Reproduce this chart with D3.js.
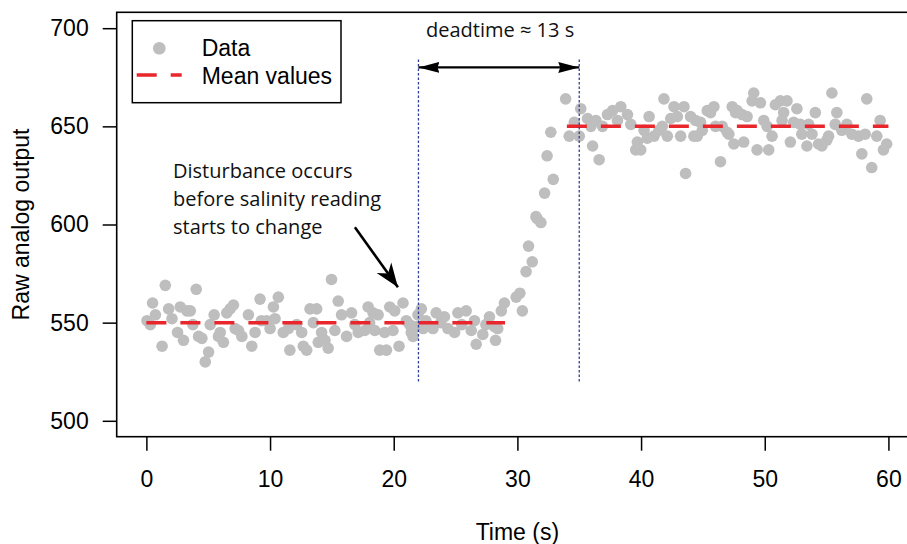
<!DOCTYPE html>
<html>
<head>
<meta charset="utf-8">
<script src="https://cdn.jsdelivr.net/npm/d3@7"></script>
<style>
  body { margin: 0; background: #fff; }
  svg { display: block; }
  .ax text { font-family: "Liberation Sans", Arial, sans-serif; font-size: 23px; fill: #000; }
  .note { font-family: "Open Sans", "Noto Sans", sans-serif; font-size: 20px; fill: #111; }
</style>
</head>
<body>
<div id="container"></div>
<script>
// sample times (s) and raw sensor readings
var times = [
  0.05, 0.32, 0.5, 0.73, 1.27, 1.53, 1.8, 2.07, 2.52, 2.74, 3.0, 3.28, 3.55, 3.76, 4.03, 4.22, 4.49, 4.76, 5.03, 5.16,
  5.48, 5.83, 5.97, 6.23, 6.5, 6.77, 7.04, 7.18, 7.45, 7.72, 8.25, 8.52, 8.79, 9.19, 9.3, 9.73, 10.0, 10.27, 10.4, 10.67,
  11.07, 11.48, 11.6, 12.15, 12.56, 12.69, 12.96, 13.23, 13.5, 13.77, 13.9, 14.17, 14.44, 14.7, 14.97, 15.24, 15.51, 15.78, 16.19, 16.59,
  16.86, 17.13, 17.66, 17.93, 18.05, 18.33, 18.47, 18.74, 18.87, 19.27, 19.41, 19.68, 19.94, 20.08, 20.43, 20.75, 21.02, 21.29, 21.42, 21.56,
  21.83, 21.96, 22.23, 22.37, 22.6, 23.17, 23.43, 23.8, 24.1, 24.38, 24.92, 25.19, 25.5, 25.86, 26.27, 26.53, 26.67, 27.2, 27.45, 27.74,
  28.15, 28.23, 28.41, 28.7, 28.95, 29.9, 30.2, 30.4, 30.7, 30.9, 31.2, 31.5, 31.6, 31.9, 32.2, 32.4, 32.7, 32.9, 33.9, 34.19,
  34.6, 35.0, 35.12, 35.67, 35.94, 36.08, 36.35, 36.61, 36.88, 37.28, 37.69, 38.09, 38.36, 38.9, 39.17, 39.57, 39.7, 39.97, 40.24, 40.5,
  40.65, 41.05, 41.45, 41.72, 41.85, 42.12, 42.4, 42.66, 42.93, 43.2, 43.47, 43.6, 44.0, 44.27, 44.41, 44.54, 44.81, 44.95, 45.35, 45.62,
  45.89, 46.02, 46.42, 46.56, 46.96, 47.1, 47.37, 47.5, 47.64, 47.77, 48.17, 48.3, 48.57, 48.98, 49.11, 49.38, 49.65, 49.92, 50.19, 50.32,
  50.59, 50.86, 51.26, 51.4, 51.53, 51.8, 52.07, 52.34, 52.6, 52.88, 53.0, 53.41, 53.55, 53.82, 54.09, 54.35, 54.62, 55.02, 55.16, 55.43,
  55.7, 55.83, 56.23, 56.64, 57.04, 57.58, 57.85, 58.12, 58.25, 58.65, 59.06, 59.33, 59.6, 59.86
];
var readings = [
  551, 549, 560, 554, 538, 569, 557, 552, 545, 558, 541, 556, 556, 549, 567, 543, 542, 530, 535, 549,
  554, 543, 545, 540, 555, 557, 559, 547, 546, 543, 554, 538, 545, 562, 551, 551, 547, 558, 552, 563,
  545, 547, 536, 549, 545, 538, 536, 557, 550, 557, 540, 545, 541, 537, 572, 546, 561, 554, 543, 555,
  549, 545, 546, 558, 550, 555, 546, 554, 536, 545, 536, 558, 546, 556, 538, 560, 551, 549, 545, 543,
  548, 554, 557, 547, 551, 547, 555, 550, 553, 547, 545, 555, 549, 556, 546, 551, 539, 544, 549, 553,
  548, 541, 547, 556, 560, 563, 565, 556, 576, 589, 581, 604, 603, 601, 616, 635, 647, 623, 664, 645,
  652, 645, 659, 654, 650, 640, 653, 633, 650, 656, 658, 653, 660, 656, 651, 638, 642, 638, 648, 644,
  655, 645, 648, 650, 664, 645, 654, 660, 655, 645, 660, 626, 655, 645, 653, 645, 652, 648, 658, 657,
  660, 650, 632, 650, 647, 646, 660, 641, 657, 658, 656, 642, 655, 663, 667, 638, 662, 653, 650, 638,
  645, 661, 663, 653, 657, 663, 642, 652, 659, 651, 646, 640, 651, 646, 657, 641, 640, 643, 645, 667,
  651, 657, 648, 651, 646, 645, 636, 646, 664, 629, 645, 653, 638, 641
];

// mean level before and after the step
var meanStart = [0, 34];
var meanEnd = [29, 60];
var meanLevel = [550, 650];

// disturbance and response times
var markTimes = [22, 35];

var xTicks = [0, 10, 20, 30, 40, 50, 60];
var yTicks = [500, 550, 600, 650, 700];

var width = 907, height = 544;

var svg = d3.select("#container").append("svg")
  .attr("width", width)
  .attr("height", height);

// R style: 4% padding around the data range
var x = d3.scaleLinear().domain([-2.4, 62.4]).range([116.7, 918.1]);
var y = d3.scaleLinear().domain([491.9, 708.1]).range([436.7, 12.3]);

var defs = svg.append("defs");
defs.append("marker")
  .attr("id", "tri")
  .attr("markerUnits", "userSpaceOnUse")
  .attr("viewBox", "-21 -6 22 12")
  .attr("refX", 0).attr("refY", 0)
  .attr("markerWidth", 22).attr("markerHeight", 12)
  .attr("orient", "auto-start-reverse")
  .append("path").attr("d", "M0,0 L-21,-5.5 L-19,0 L-21,5.5 Z").attr("fill", "#000");
defs.append("marker")
  .attr("id", "barb")
  .attr("markerUnits", "userSpaceOnUse")
  .attr("viewBox", "-24 -10 25 20")
  .attr("refX", 0).attr("refY", 0)
  .attr("markerWidth", 25).attr("markerHeight", 20)
  .attr("orient", "auto")
  .append("path").attr("d", "M0,0 L-24,-9 L-17,0 L-24,9 Z").attr("fill", "#000");

// points
svg.append("g").selectAll("circle")
  .data(times)
  .join("circle")
  .attr("cx", function(d) { return x(d); })
  .attr("cy", function(d, i) { return y(readings[i]); })
  .attr("r", 5.8)
  .attr("fill", "#bebebe");

// mean values
svg.append("g").selectAll("line")
  .data(meanLevel)
  .join("line")
  .attr("x1", function(d, i) { return x(meanStart[i]); })
  .attr("x2", function(d, i) { return x(meanEnd[i]); })
  .attr("y1", function(d) { return y(d); })
  .attr("y2", function(d) { return y(d); })
  .attr("stroke", "#e8262b")
  .attr("stroke-width", 3.5)
  .attr("stroke-dasharray", "20,14");

// dotted markers at disturbance and response
svg.append("g").selectAll("line")
  .data(markTimes)
  .join("line")
  .attr("x1", function(d) { return x(d); })
  .attr("x2", function(d) { return x(d); })
  .attr("y1", y(520))
  .attr("y2", y(685))
  .attr("stroke", "#2f3f9c")
  .attr("stroke-width", 1.3)
  .attr("stroke-dasharray", "2.5,2");

// deadtime arrow
svg.append("line")
  .attr("x1", x(markTimes[0])).attr("x2", x(markTimes[1]))
  .attr("y1", y(680)).attr("y2", y(680))
  .attr("stroke", "#000").attr("stroke-width", 2.3)
  .attr("marker-start", "url(#tri)")
  .attr("marker-end", "url(#tri)");

svg.append("text")
  .attr("class", "note")
  .attr("x", 426).attr("y", 37)
  .text("deadtime \u2248 13 s");

// disturbance note
var note = svg.append("text").attr("class", "note");
["Disturbance occurs", "before salinity reading", "starts to change"].forEach(function(s, i) {
  note.append("tspan").attr("x", 173).attr("y", 178 + i * 28).text(s);
});
svg.append("line")
  .attr("x1", x(16.86)).attr("y1", y(598.6))
  .attr("x2", x(20.34)).attr("y2", y(568))
  .attr("stroke", "#000").attr("stroke-width", 2.6)
  .attr("marker-end", "url(#barb)");

// axes
var ax = svg.append("g").attr("class", "ax");
ax.append("g")
  .attr("transform", "translate(0," + y.range()[0] + ")")
  .call(d3.axisBottom(x).tickValues(xTicks).tickSize(14).tickPadding(20))
  .call(function(g) { g.select(".domain").remove(); });
ax.append("g")
  .attr("transform", "translate(" + x.range()[0] + ",0)")
  .call(d3.axisLeft(y).tickValues(yTicks).tickSize(14).tickPadding(14))
  .call(function(g) { g.select(".domain").remove(); });
ax.selectAll(".tick line").attr("stroke", "#000").attr("stroke-width", 1.5);
ax.selectAll(".tick text").style("font-size", "23px");

// plot box
svg.append("rect")
  .attr("x", x.range()[0]).attr("y", y.range()[1])
  .attr("width", x.range()[1] - x.range()[0])
  .attr("height", y.range()[0] - y.range()[1])
  .attr("fill", "none").attr("stroke", "#000").attr("stroke-width", 1.6);

// titles
ax.append("text")
  .attr("x", (x(0) + x(60)) / 2).attr("y", 540)
  .attr("text-anchor", "middle")
  .text("Time (s)");
ax.append("text")
  .attr("transform", "translate(29," + (y.range()[0] + y.range()[1]) / 2 + ") rotate(-90)")
  .attr("text-anchor", "middle")
  .text("Raw analog output");

// legend
var leg = svg.append("g").attr("class", "ax");
leg.append("rect")
  .attr("x", 132.3).attr("y", 20.7).attr("width", 208.7).attr("height", 82)
  .attr("fill", "#fff").attr("stroke", "#000").attr("stroke-width", 1.5);
leg.append("circle").attr("cx", 159.3).attr("cy", 48.3).attr("r", 6.3).attr("fill", "#bebebe");
leg.append("line")
  .attr("x1", 136.7).attr("x2", 181.7).attr("y1", 75).attr("y2", 75)
  .attr("stroke", "#e8262b").attr("stroke-width", 3.5)
  .attr("stroke-dasharray", "20,14");
leg.append("text").attr("x", 201.7).attr("y", 56).text("Data");
leg.append("text").attr("x", 201.7).attr("y", 84).text("Mean values");
</script>
</body>
</html>
